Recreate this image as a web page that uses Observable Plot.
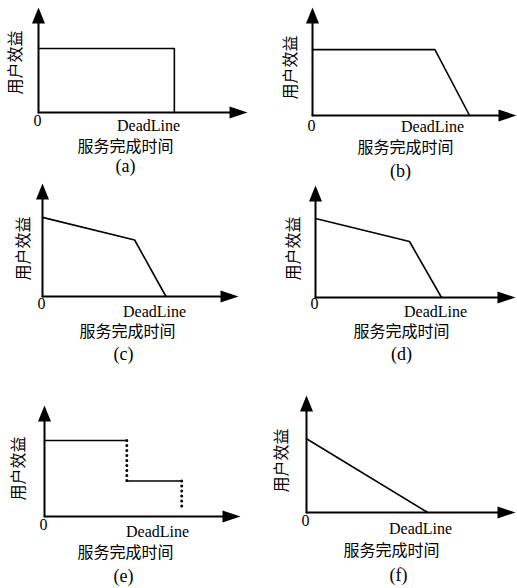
<!DOCTYPE html>
<html><head><meta charset="utf-8">
<script src="https://cdn.jsdelivr.net/npm/d3@7"></script>
<script src="https://cdn.jsdelivr.net/npm/@observablehq/plot@0.6"></script>
<style>
body{margin:0;background:#fff}
#fig{position:relative;width:517px;height:588px;background:#fff;overflow:hidden}
#fig svg{position:absolute;left:0;top:0}
</style></head><body><div id="fig"></div>
<script>
// ---- text ----
const captions = ["(a)", "(b)", "(c)", "(d)", "(e)", "(f)"];
const yLabel = "用户效益";
const xLabel = "服务完成时间";
const deadlineLabel = "DeadLine";
const originLabel = "0";

// ---- utility curves: [time, utility] in % of axis length ----
const curveA = [[0, 61], [65, 61], [65, 0]];
const curveB = [[0, 61], [60, 61], [77, 0]];
const curveC = [[0, 70], [47, 50], [63, 0]];
const curveD = [[0, 70.5], [47, 50], [63, 0]];
const stepE1 = [[0, 68.5], [42, 68.5]];
const stepE2 = [[42, 32], [70, 32]];
const dropE1 = [[42, 68.5], [42, 32]];
const dropE2 = [[70, 32], [70, 5]];
const curveF = [[0, 63], [58, 0]];

const solidSets = [[curveA], [curveB], [curveC], [curveD], [stepE1, stepE2], [curveF]];
const dottedSets = [[], [], [], [], [dropE1, dropE2], []];

// ---- layout (pixels) ----
const layout = [
  {ox: 38, oy: 112, xt: 247, yt: 7,   yl: [-23, -50], zero: 8,  dl: [148, 13], xl: [125, 34], cap: [125, 54]},
  {ox: 312, oy: 115, xt: 516, yt: 7,  yl: [-22, -48], zero: 10, dl: [432, 11], xl: [405, 32], cap: [400, 56]},
  {ox: 42, oy: 296, xt: 238, yt: 183, yl: [-19, -48], zero: 7,  dl: [154, 15], xl: [127, 35], cap: [123, 58]},
  {ox: 315, oy: 297, xt: 515, yt: 185,yl: [-22, -49], zero: 6,  dl: [435, 14], xl: [401, 34], cap: [401, 57]},
  {ox: 44, oy: 516, xt: 240, yt: 405, yl: [-26, -48], zero: 8,  dl: [157, 15], xl: [125, 36], cap: [123, 60]},
  {ox: 306, oy: 512, xt: 515, yt: 395,yl: [-25, -52], zero: 8,  dl: [420, 16], xl: [391, 38], cap: [398, 63]}
];

const W = 517, H = 588;
const serif = "'Liberation Serif', 'Times New Roman', serif";
const cjk = "'Noto Sans CJK SC', sans-serif";

const headUp = {draw(ctx) { ctx.moveTo(0, 0); ctx.lineTo(6.5, 16); ctx.lineTo(-6.5, 16); ctx.closePath(); }};
const headRight = {draw(ctx) { ctx.moveTo(0, 0); ctx.lineTo(-18, 6); ctx.lineTo(-18, -6); ctx.closePath(); }};

const toRows = (segs) => segs.flatMap((s, i) => s.map(([x, y]) => ({x, y, seg: i})));
const fig = document.getElementById("fig");

layout.forEach((L, i) => {
  const origin = [{x: 0, y: 0}];
  const txt = (text, dx, dy, font, size) =>
    Plot.text(origin, {x: "x", y: "y", text: () => text, dx, dy, fontFamily: font, fontSize: size,
      textAnchor: "middle", lineAnchor: "middle", fill: "black"});
  const marks = [
    Plot.line([[0, 0], [0, 96]], {stroke: "black", strokeWidth: 2}),
    Plot.line([[0, 0], [96, 0]], {stroke: "black", strokeWidth: 2}),
    Plot.dot([[0, 100]], {symbol: headUp, fill: "black"}),
    Plot.dot([[100, 0]], {symbol: headRight, fill: "black"}),
    Plot.line(toRows(solidSets[i]), {x: "x", y: "y", z: "seg", stroke: "black", strokeWidth: 1.6}),
    Plot.line(toRows(dottedSets[i]), {x: "x", y: "y", z: "seg", stroke: "black", strokeWidth: 3,
      strokeDasharray: "0,5", strokeLinecap: "round"}),
    Plot.text(origin, {x: "x", y: "y", text: () => yLabel, dx: L.yl[0], dy: L.yl[1], rotate: -90,
      fontFamily: cjk, fontSize: 16, textAnchor: "middle", lineAnchor: "middle", fill: "black"}),
    txt(originLabel, -1, L.zero, serif, 16),
    txt(deadlineLabel, L.dl[0] - L.ox, L.dl[1], serif, 16),
    txt(xLabel, L.xl[0] - L.ox, L.xl[1], cjk, 16),
    txt(captions[i], L.cap[0] - L.ox, L.cap[1], serif, 18)
  ];
  const svg = Plot.plot({
    width: W, height: H,
    marginLeft: L.ox, marginRight: W - L.xt, marginTop: L.yt, marginBottom: H - L.oy,
    x: {domain: [0, 100], axis: null},
    y: {domain: [0, 100], axis: null},
    style: {background: "transparent", overflow: "visible"},
    marks
  });
  fig.appendChild(svg);
});
</script>
</body></html>
